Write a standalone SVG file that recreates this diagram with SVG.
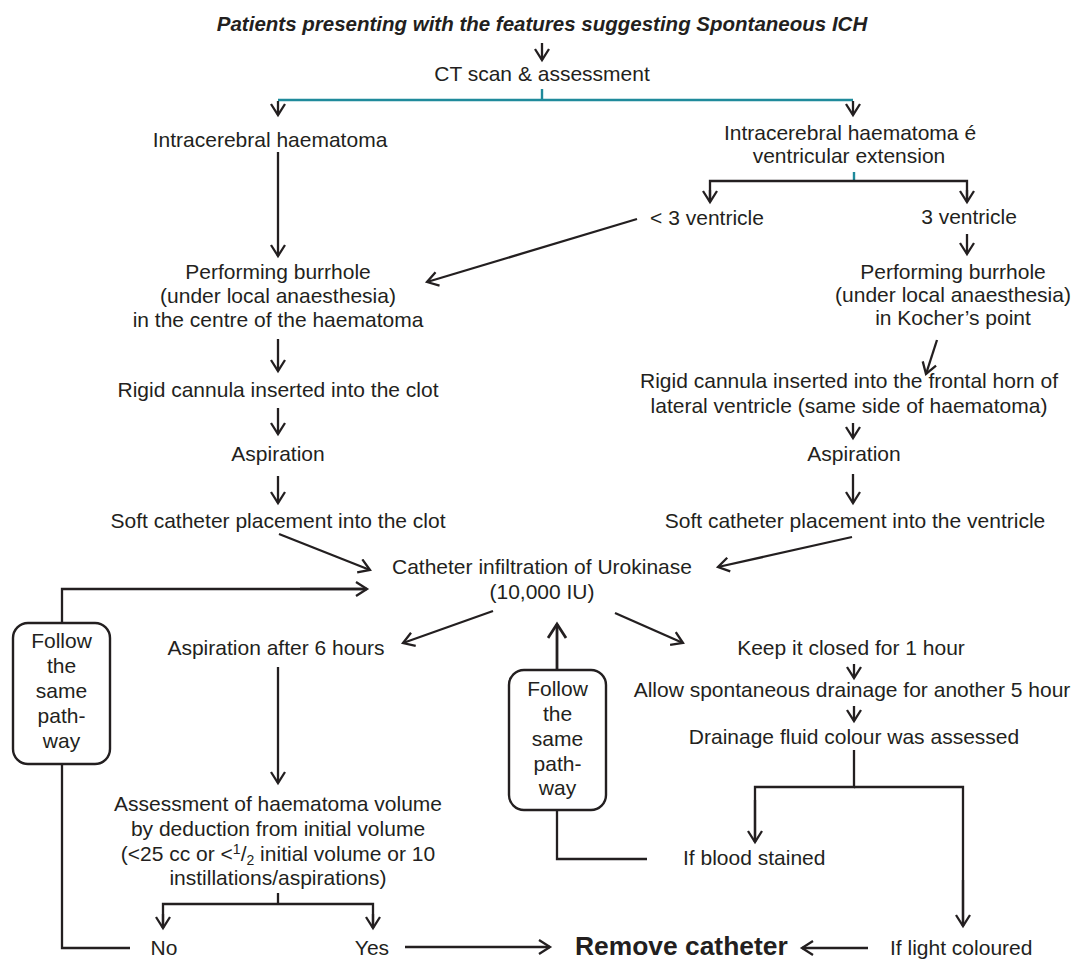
<svg xmlns="http://www.w3.org/2000/svg" width="1076" height="959" viewBox="0 0 1076 959">
<style>
text{font-family:"Liberation Sans",Arial,Helvetica,sans-serif;font-size:21px;fill:#231f20;text-anchor:middle}
.title{font-weight:bold;font-style:italic;font-size:20.5px}
.big{font-weight:bold;font-size:26.4px;text-anchor:start}
.st{text-anchor:start}
.small{font-size:14px}
.ln{fill:none;stroke:#231f20;stroke-width:2.3}
.ar{fill:none;stroke:#231f20;stroke-width:2.3;marker-end:url(#a)}
.teal{fill:none;stroke:#1f8a9b;stroke-width:2.4}
.box{fill:#fff;stroke:#231f20;stroke-width:2.4}
</style>
<defs>
<marker id="a" markerWidth="16" markerHeight="18" refX="12" refY="8" orient="auto" markerUnits="userSpaceOnUse">
<path d="M1,1 L12,8 L1,15" fill="none" stroke="#231f20" stroke-width="2.3"/>
</marker>
<marker id="b" markerWidth="20" markerHeight="22" refX="15" refY="10" orient="auto" markerUnits="userSpaceOnUse">
<path d="M1,1 L15,10 L1,19" fill="none" stroke="#231f20" stroke-width="2.8"/>
</marker>
</defs>
<rect width="1076" height="959" fill="#fff"/>

<g id="connectors">
<line class="ar" x1="542" y1="43" x2="542" y2="60"/>
<line class="teal" x1="542" y1="89" x2="542" y2="100"/>
<line class="teal" x1="278" y1="100" x2="853" y2="100"/>
<line class="ar" x1="278" y1="101" x2="278" y2="115"/>
<line class="ar" x1="853" y1="101" x2="853" y2="115"/>
<line class="ar" x1="278" y1="152" x2="278" y2="256"/>
<line class="teal" x1="854" y1="172" x2="854" y2="181"/>
<polyline class="ln" points="710,201 710,181 967,181 967,201"/>
<line class="ar" x1="710" y1="190" x2="710" y2="202"/>
<line class="ar" x1="967" y1="190" x2="967" y2="202"/>
<line class="ar" x1="637" y1="219" x2="427" y2="282"/>
<line class="ar" x1="967" y1="234" x2="967" y2="254"/>
<line class="ar" x1="278" y1="339" x2="278" y2="371"/>
<line class="ar" x1="937" y1="340" x2="926" y2="374"/>
<line class="ar" x1="278" y1="408" x2="278" y2="434"/>
<line class="ar" x1="853" y1="423" x2="853" y2="438"/>
<line class="ar" x1="278" y1="476" x2="278" y2="503"/>
<line class="ar" x1="853" y1="474" x2="853" y2="503"/>
<line class="ar" x1="279" y1="534" x2="370" y2="570"/>
<line class="ar" x1="852" y1="537" x2="718" y2="567"/>
<polyline class="ln" points="62,623 62,589 365,589"/>
<line class="ar" x1="300" y1="589" x2="367" y2="589"/>
<line class="ar" x1="493" y1="611" x2="403" y2="643"/>
<line class="ar" x1="615" y1="613" x2="683" y2="643"/>
<line x1="557" y1="670" x2="557" y2="624" fill="none" stroke="#231f20" stroke-width="2.8" marker-end="url(#b)"/>
<line class="ar" x1="854" y1="664" x2="854" y2="678"/>
<line class="ar" x1="854" y1="706" x2="854" y2="721"/>
<line class="ar" x1="278" y1="667" x2="278" y2="783"/>
<polyline class="ln" points="854,750 854,787 755,787 755,842"/>
<line class="ar" x1="755" y1="800" x2="755" y2="842"/>
<polyline class="ln" points="854,787 963,787 963,926"/>
<line class="ar" x1="963" y1="880" x2="963" y2="926"/>
<polyline class="ln" points="557,810 557,859 647,859"/>
<polyline class="ln" points="62,764 62,948 130,948"/>
<line class="ln" x1="278" y1="893" x2="278" y2="904"/>
<polyline class="ln" points="163,928 163,904 373,904 373,928"/>
<line class="ar" x1="163" y1="914" x2="163" y2="928"/>
<line class="ar" x1="373" y1="914" x2="373" y2="928"/>
<line class="ar" x1="405" y1="947" x2="550" y2="947"/>
<line class="ar" x1="868" y1="948" x2="802" y2="948"/>
</g>

<g id="n-title"><text class="title" x="542" y="31">Patients presenting with the features suggesting Spontaneous ICH</text></g>
<g id="n-ct"><text x="542" y="81">CT scan &amp; assessment</text></g>
<g id="n-ich"><text x="270" y="147">Intracerebral haematoma</text></g>
<g id="n-ichv"><text x="850" y="140">Intracerebral haematoma é</text><text x="849" y="163">ventricular extension</text></g>
<g id="n-lt3"><text x="707" y="225">&lt; 3 ventricle</text></g>
<g id="n-3v"><text x="969" y="224">3 ventricle</text></g>
<g id="n-burr-l"><text x="278" y="279">Performing burrhole</text><text x="278" y="303">(under local anaesthesia)</text><text x="278" y="327">in the centre of the haematoma</text></g>
<g id="n-burr-r"><text x="953" y="279">Performing burrhole</text><text x="953" y="302">(under local anaesthesia)</text><text x="953" y="325">in Kocher’s point</text></g>
<g id="n-rigid-l"><text x="278" y="397">Rigid cannula inserted into the clot</text></g>
<g id="n-rigid-r"><text x="849" y="388">Rigid cannula inserted into the frontal horn of</text><text x="849" y="413">lateral ventricle (same side of haematoma)</text></g>
<g id="n-asp-l"><text x="278" y="461">Aspiration</text></g>
<g id="n-asp-r"><text x="854" y="461">Aspiration</text></g>
<g id="n-soft-l"><text x="278" y="528">Soft catheter placement into the clot</text></g>
<g id="n-soft-r"><text x="855" y="528">Soft catheter placement into the ventricle</text></g>
<g id="n-uro"><text x="542" y="574">Catheter infiltration of Urokinase</text><text x="542" y="599">(10,000 IU)</text></g>
<g id="n-follow-l"><rect class="box" x="13" y="623" width="97" height="141" rx="15"/><text x="61.5" y="648">Follow</text><text x="61.5" y="673">the</text><text x="61.5" y="698">same</text><text x="61.5" y="723">path-</text><text x="61.5" y="748">way</text></g>
<g id="n-asp6"><text x="276" y="655">Aspiration after 6 hours</text></g>
<g id="n-follow-m"><rect class="box" x="509" y="670" width="97" height="140" rx="15"/><text x="557.5" y="696">Follow</text><text x="557.5" y="721">the</text><text x="557.5" y="746">same</text><text x="557.5" y="771">path-</text><text x="557.5" y="795">way</text></g>
<g id="n-keep"><text x="851" y="655">Keep it closed for 1 hour</text></g>
<g id="n-allow"><text x="852" y="697">Allow spontaneous drainage for another 5 hour</text></g>
<g id="n-drain"><text x="854" y="744">Drainage fluid colour was assessed</text></g>
<g id="n-assess"><text x="278" y="811">Assessment of haematoma volume</text><text x="278" y="836">by deduction from initial volume</text><text x="278" y="861">(&lt;25 cc or &lt;<tspan class="small" dy="-7">1</tspan><tspan dy="7">/</tspan><tspan class="small" dy="4">2</tspan><tspan dy="-4"> initial volume or 10</tspan></text><text x="278" y="885">instillations/aspirations)</text></g>
<g id="n-blood"><text class="st" x="683" y="865">If blood stained</text></g>
<g id="n-no"><text x="164" y="955">No</text></g>
<g id="n-yes"><text x="372" y="955">Yes</text></g>
<g id="n-remove"><text class="big" x="575" y="955">Remove catheter</text></g>
<g id="n-light"><text class="st" x="890" y="955">If light coloured</text></g>
</svg>
